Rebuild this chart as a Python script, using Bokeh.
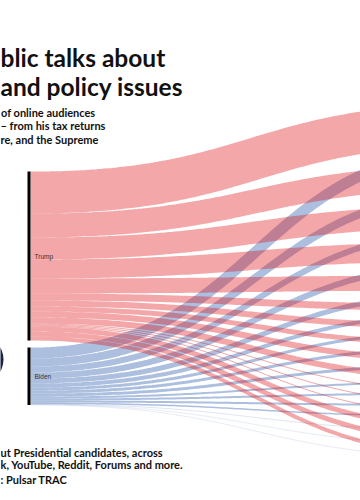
import numpy as np
from bokeh.plotting import figure
from bokeh.models import Range1d, ColumnDataSource
from bokeh.core.properties import value
from bokeh.embed import file_html
from bokeh.resources import INLINE

# ---------------- data ----------------
candidates = ["Trump", "Biden"]
topics = ["Tax returns", "Coronavirus", "Supreme Court", "Healthcare", "Economy",
          "Election integrity", "Climate change", "Immigration", "Racial justice",
          "Law and order", "Hunter Biden", "Obama", "Education",
          "Foreign policy", "Jobs", "Gun control"]
trump_vals = [42, 24, 22, 19, 15, 7, 6, 5, 6, 6, 1, 1, 1, 5, 5, 4]
biden_vals = [11, 8, 6, 6, 5, 4, 3, 3, 3, 2, 2, 2, 1.5, 0.4, 0.3, 0.3]

title_lines = ["blic talks about", "and policy issues"]
subtitle_lines = ["of online audiences", "\u2013 from his tax returns", "re, and the Supreme"]
footer_lines = ["ut Presidential candidates, across",
                "k, YouTube, Reddit, Forums and more.",
                ": Pulsar TRAC"]

# ---------------- layout constants ----------------
W, H = 360, 500
K = 1.0          # px per unit
NODE_X0, NODE_W = 27, 3
SRC_TOP, SRC_GAP = 171, 7
TGT_X, TGT_TOP, TGT_PAD = 480, 103, 8.5

RED, BLUE = "#dd0a10", "#5a7fc0"

p = figure(width=W, height=H, output_backend="svg", toolbar_location=None,
           x_range=Range1d(0, W), y_range=Range1d(H, 0),
           min_border=0, outline_line_color=None)
p.axis.visible = False
p.grid.visible = False
p.background_fill_color = "white"
p.border_fill_color = "white"

vals = {"Trump": trump_vals, "Biden": biden_vals}
src_top = {}
y = SRC_TOP
for c in candidates:
    src_top[c] = y
    y += K * sum(vals[c]) + SRC_GAP

tgt_top = []
y = TGT_TOP
for i in range(len(topics)):
    tgt_top.append(y)
    y += K * (trump_vals[i] + biden_vals[i]) + TGT_PAD

t = np.linspace(0, 1, 100)
x0 = NODE_X0 + NODE_W
x1 = TGT_X
xm = (x0 + x1) / 2
bx = (1 - t) ** 3 * x0 + 3 * (1 - t) ** 2 * t * xm + 3 * (1 - t) * t ** 2 * xm + t ** 3 * x1
s = 3 * t ** 2 - 2 * t ** 3


def links(cand):
    xs, ys, ws = [], [], []
    sy = src_top[cand]
    for i in range(len(topics)):
        w = K * vals[cand][i]
        ty = tgt_top[i] + (0 if cand == "Trump" else K * trump_vals[i])
        yc0 = sy + w / 2
        yc1 = ty + w / 2
        xs.append(list(bx))
        ys.append(list(yc0 + (yc1 - yc0) * s))
        ws.append(w)
        sy += w
    return ColumnDataSource(dict(xs=xs, ys=ys, w=ws))


p.multi_line("xs", "ys", line_width="w", source=links("Biden"),
             line_color=BLUE, line_alpha=0.5, line_cap="butt")
p.multi_line("xs", "ys", line_width="w", source=links("Trump"),
             line_color=RED, line_alpha=0.36, line_cap="butt")

tops = [src_top[c] for c in candidates]
bots = [src_top[c] + K * sum(vals[c]) for c in candidates]
p.quad(left=NODE_X0, right=NODE_X0 + NODE_W, top=tops, bottom=bots,
       fill_color="black", line_color=None)
p.text(x=[NODE_X0 + NODE_W + 4] * 2, y=[(a + b) / 2 for a, b in zip(tops, bots)],
       text=candidates, text_font=value("Liberation Sans"), text_font_size="6.5px",
       text_color="#333333", text_baseline="middle", text_align="left")

# Biden avatar (mostly outside the visible crop)
p.circle(x=[NODE_X0 - 48], y=[src_top["Biden"] + 12], radius=24,
         fill_color="#1b2447", line_color=None)

p.text(x=[0, 0], y=[57, 86], text=title_lines, text_font=value("Lato"),
       text_font_style="bold", text_font_size="24.5px", text_color="#111111",
       text_baseline="alphabetic")
p.text(x=[0.5, 0, 0], y=[112, 125, 138.5], text=subtitle_lines, text_font=value("Lato"),
       text_font_style="bold", text_font_size="11px", text_color="#111111",
       text_baseline="alphabetic")
p.text(x=[0, 0, 0], y=[452, 463.5, 479], text=footer_lines, text_font=value("Lato"),
       text_font_style="bold", text_font_size="11px", text_color="#111111",
       text_baseline="alphabetic")

open("out.html", "w").write(file_html(p, INLINE))
